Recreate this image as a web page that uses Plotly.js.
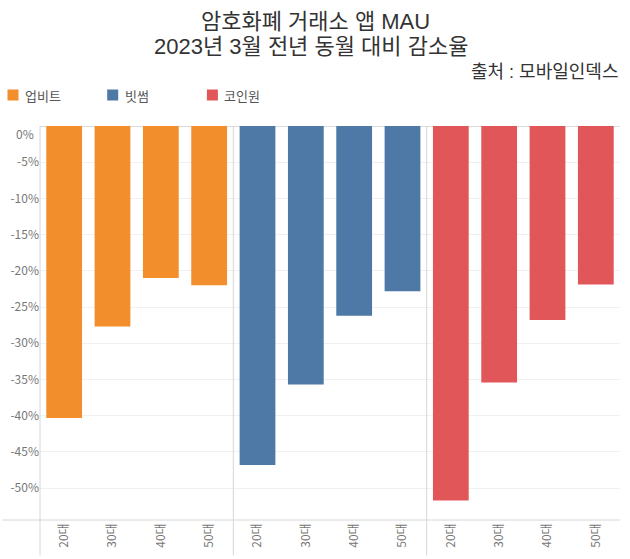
<!DOCTYPE html>
<html>
<head>
<meta charset="utf-8">
<script src="https://cdn.plot.ly/plotly-3.0.1.min.js"></script>
<style>html,body{margin:0;padding:0;background:#fff;}#chart{width:630px;height:559px;}</style>
</head>
<body>
<div id="chart"></div>
<script>
const ages = ["20대", "30대", "40대", "50대"];
const exchanges = ["업비트", "빗썸", "코인원"];
const upbit = [-40.3, -27.7, -21.0, -22.0];
const bithumb = [-46.8, -35.7, -26.2, -22.8];
const coinone = [-51.7, -35.4, -26.8, -21.9];
const colors = ["#F28E2B", "#4E79A7", "#E15759"];
const yTicks = [0, -5, -10, -15, -20, -25, -30, -35, -40, -45, -50];
const titleLines = ["암호화폐 거래소 앱 MAU", "2023년 3월 전년 동월 대비 감소율"];
const sourceText = "출처 : 모바일인덱스";

const series = [upbit, bithumb, coinone];
const font = "'Noto Sans CJK KR', 'Noto Sans', sans-serif";
const titleFont = "'Liberation Sans', 'Noto Sans CJK KR', sans-serif";

const traces = series.map((vals, i) => ({
  type: "bar",
  name: exchanges[i],
  x: ages,
  y: vals,
  xaxis: i === 0 ? "x" : "x" + (i + 1),
  yaxis: "y",
  marker: {color: colors[i], line: {width: 0}},
  showlegend: false,
  hoverinfo: "x+y"
}));

const xbase = {
  type: "category",
  tickangle: -90,
  tickfont: {family: font, size: 12, color: "#777"},
  showgrid: false,
  showline: false,
  zeroline: false,
  ticks: "",
  automargin: false,
  fixedrange: true
};

// custom legend built from the exchange names / colours (pixel -> paper conversion)
const plotL = 40, plotW = 580, plotT = 126, plotH = 394;
const px = p => (p - plotL) / plotW;
const py = p => 1 - (p - plotT) / plotH;
const legendStep = 99.7;
const legendShapes = exchanges.map((name, i) => ({
  type: "rect", xref: "paper", yref: "paper",
  x0: px(7.5 + legendStep * i), x1: px(18.5 + legendStep * i), y0: py(100.5), y1: py(89.5),
  fillcolor: colors[i], line: {width: 0}
}));
const legendTexts = exchanges.map((name, i) => ({
  text: name, xref: "paper", yref: "paper",
  x: px(23 + legendStep * i), y: py(95), xanchor: "left", yanchor: "middle",
  showarrow: false, font: {family: font, size: 13, color: "#555"}
}));

const titleY = [21.5, 47];
const titleX = [315, 311];
const titleAnns = titleLines.map((t, i) => ({
  text: t, xref: "paper", yref: "paper", x: px(titleX[i]), y: py(titleY[i]),
  xanchor: "center", yanchor: "middle", showarrow: false,
  font: {family: titleFont, size: 22, color: "#333"}
}));

const layout = {
  width: 630,
  height: 559,
  margin: {l: plotL, r: 10, t: plotT, b: 559 - plotT - plotH},
  paper_bgcolor: "#fff",
  plot_bgcolor: "#fff",
  bargap: 0.26,
  font: {family: font, color: "#333"},
  showlegend: false,
  xaxis: Object.assign({}, xbase, {domain: [0, 1/3], anchor: "y"}),
  xaxis2: Object.assign({}, xbase, {domain: [1/3, 2/3], anchor: "y"}),
  xaxis3: Object.assign({}, xbase, {domain: [2/3, 1], anchor: "y"}),
  yaxis: {
    range: [-54.4, 0],
    tickvals: yTicks,
    ticktext: yTicks.map(v => v === 0 ? "" : v + "%"),
    tickfont: {family: font, size: 12, color: "#777"},
    showgrid: true,
    gridcolor: "#f0f0f0",
    zeroline: true,
    zerolinecolor: "#dcdcdc",
    zerolinewidth: 1,
    showline: false,
    ticks: "",
    automargin: false,
    fixedrange: true
  },
  shapes: [
    {type: "line", xref: "paper", yref: "paper", x0: 0, x1: 0, y0: 1, y1: -0.09, line: {color: "#d6d6d6", width: 1}},
    {type: "line", xref: "paper", yref: "paper", x0: 1/3, x1: 1/3, y0: 1, y1: -0.09, line: {color: "#d6d6d6", width: 1}},
    {type: "line", xref: "paper", yref: "paper", x0: 2/3, x1: 2/3, y0: 1, y1: -0.09, line: {color: "#d6d6d6", width: 1}},
    {type: "line", xref: "paper", yref: "paper", x0: -0.065, x1: 1, y0: 0, y1: 0, line: {color: "#d6d6d6", width: 1}}
  ].concat(legendShapes),
  annotations: [
    {text: "0%", xref: "paper", yref: "y", x: 0, y: 0, xanchor: "right", yanchor: "middle", xshift: -4, yshift: -7, showarrow: false, font: {family: font, size: 12, color: "#777"}},
    {text: sourceText, xref: "paper", yref: "paper", x: px(620), y: py(71.5), xanchor: "right", yanchor: "middle", showarrow: false, font: {family: titleFont, size: 18, color: "#333"}}
  ].concat(titleAnns, legendTexts)
};

Plotly.newPlot("chart", traces, layout, {displayModeBar: false, staticPlot: true});
</script>
</body>
</html>
